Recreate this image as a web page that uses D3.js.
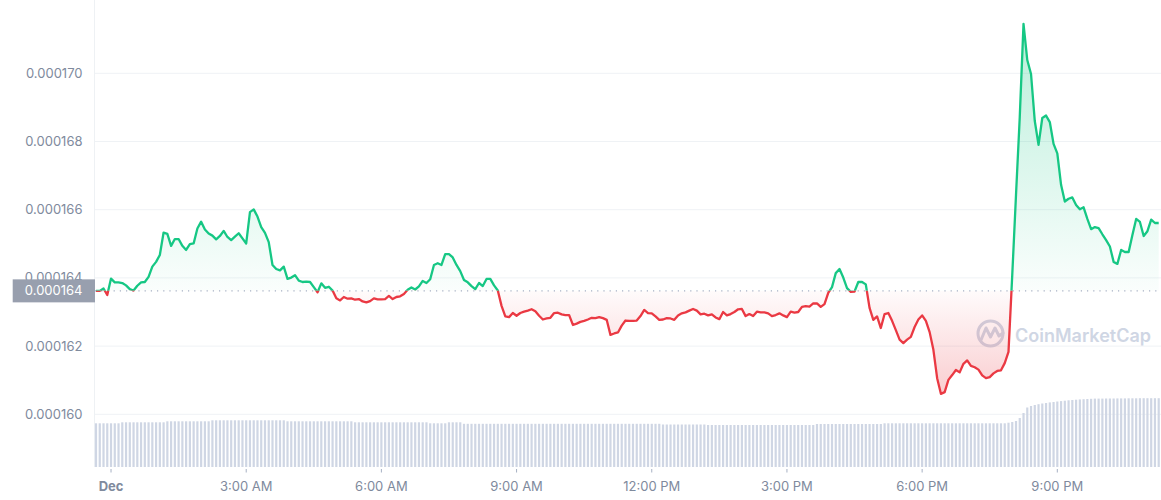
<!DOCTYPE html>
<html>
<head>
<meta charset="utf-8">
<script src="https://cdn.jsdelivr.net/npm/d3@7"></script>
<style>
  html, body { margin: 0; padding: 0; background: #ffffff; }
  svg { display: block; font-family: Inter, "Noto Sans", sans-serif; }
</style>
</head>
<body>
<svg id="chart" width="1161" height="500"></svg>
<script>
// ---- data ----
// price in millionths of USD, one point every 5 minutes from 23:40 (Nov 30) to 23:15 (Dec 1)
const startTime = new Date(2022, 10, 30, 23, 40);
const stepMinutes = 5;
const priceMicro = [
163.62,163.62,163.69,163.50,163.98,163.87,163.87,163.85,163.78,163.67,
163.63,163.77,163.87,163.88,164.03,164.33,164.47,164.67,165.33,165.29,
164.94,165.14,165.14,164.94,164.82,164.99,165.01,165.45,165.65,165.42,
165.30,165.24,165.13,165.23,165.38,165.20,165.11,165.21,165.31,165.16,
165.01,165.93,166.01,165.80,165.49,165.32,165.05,164.38,164.26,164.22,
164.33,163.97,164.01,164.08,163.92,163.88,163.89,163.88,163.73,163.58,
163.84,163.71,163.74,163.63,163.40,163.34,163.44,163.39,163.40,163.36,
163.38,163.31,163.28,163.32,163.40,163.37,163.37,163.38,163.47,163.38,
163.44,163.46,163.53,163.65,163.72,163.66,163.75,163.91,163.85,163.96,
164.38,164.43,164.38,164.70,164.70,164.60,164.38,164.20,163.94,163.87,
163.76,163.67,163.85,163.76,163.97,163.97,163.78,163.63,163.18,162.87,
162.85,162.97,162.89,162.97,163.01,163.04,163.08,163.02,162.89,162.78,
162.81,162.83,162.97,162.98,162.93,162.91,162.91,162.62,162.66,162.71,
162.74,162.78,162.83,162.82,162.85,162.82,162.77,162.33,162.37,162.40,
162.60,162.75,162.74,162.74,162.75,162.88,163.06,162.97,162.96,162.87,
162.77,162.78,162.82,162.81,162.77,162.90,162.96,162.99,163.04,163.09,
163.04,162.93,162.95,162.90,162.93,162.84,162.79,163.00,162.90,162.94,
163.00,163.08,163.09,162.88,162.94,162.88,163.01,162.99,162.99,162.96,
162.88,162.91,162.96,162.90,162.85,163.01,162.98,163.00,163.15,163.17,
163.16,163.25,163.25,163.15,163.23,163.56,163.73,164.14,164.26,164.01,
163.70,163.59,163.60,163.88,163.88,163.81,163.12,162.77,162.87,162.53,
162.94,162.97,162.74,162.47,162.19,162.09,162.19,162.27,162.56,162.78,
162.90,162.74,162.41,161.89,161.06,160.60,160.65,161.01,161.15,161.30,
161.23,161.48,161.58,161.42,161.38,161.31,161.14,161.06,161.09,161.20,
161.27,161.29,161.50,161.83,164.08,166.43,168.72,171.45,170.39,169.98,
168.60,167.90,168.69,168.76,168.57,167.93,167.65,166.73,166.24,166.32,
166.36,166.14,166.01,166.07,165.73,165.43,165.49,165.46,165.28,165.11,
164.92,164.47,164.41,164.82,164.76,164.76,165.26,165.73,165.64,165.23,
165.37,165.71,165.61,165.61
];
// 24h volume (arbitrary units), same timestamps
const volume = [
43.7,43.7,43.7,43.7,43.7,43.7,43.7,
44.7,44.7,44.7,44.7,44.7,44.7,44.7,44.7,44.7,44.7,44.7,44.7,
45.7,45.7,45.7,45.7,45.7,45.7,45.7,45.7,45.7,45.7,45.7,45.7,
46.7,46.7,46.7,46.7,46.7,46.7,46.7,46.7,46.7,46.7,46.7,46.7,46.7,46.7,46.7,46.7,46.7,46.7,46.7,46.7,
45.7,45.7,45.7,45.7,45.7,45.7,45.7,45.7,45.7,45.7,45.7,45.7,45.7,45.7,45.7,45.7,45.7,45.7,
44.7,44.7,44.7,44.7,44.7,44.7,44.7,44.7,44.7,44.7,44.7,44.7,44.7,44.7,44.7,44.7,44.7,44.7,44.7,44.7,
43.7,43.7,43.7,43.7,43.7,
44.7,44.7,44.7,44.7,
43.2,43.2,43.2,43.2,43.2,43.2,43.2,43.2,43.2,43.2,43.2,43.2,43.2,43.2,43.2,43.2,43.2,43.2,
43.2,43.2,43.2,43.2,43.2,43.2,43.2,43.2,43.2,43.2,43.2,43.2,43.2,43.2,43.2,43.2,43.2,43.2,
43.2,43.2,43.2,43.2,43.2,43.2,43.2,43.2,43.2,43.2,43.2,43.2,43.2,43.2,43.2,43.2,43.2,
42.5,42.5,42.5,42.5,42.5,42.5,42.5,42.5,42.5,42.5,42.5,42.5,
42.0,42.0,42.0,42.0,42.0,42.0,42.0,42.0,42.0,42.0,42.0,42.0,42.0,42.0,42.0,
42.0,42.0,42.0,42.0,42.0,42.0,42.0,42.0,42.0,42.0,42.0,42.0,42.0,42.0,
43.0,43.0,43.0,43.0,43.0,43.0,43.0,43.0,43.0,43.0,43.0,43.0,43.0,43.0,43.0,43.0,43.0,43.0,
43.7,43.7,43.7,43.7,43.7,43.7,43.7,43.7,43.7,43.7,43.7,43.7,43.7,43.7,43.7,43.7,43.7,
43.7,43.7,43.7,43.7,43.7,43.7,43.7,43.7,43.7,43.7,43.7,43.7,43.7,43.7,43.7,43.7,
44.3,45.0,46.0,49.0,54.0,59.5,61.0,62.0,62.8,63.5,64.0,64.6,65.0,65.5,65.9,66.3,66.7,67.0,67.3,67.6,67.8,68.0,68.2,
68.4,68.4,68.4,68.5,68.5,68.5,68.6,68.6,68.6,68.7,68.7,68.7,68.8,68.8,68.8,68.8,68.8,68.8
];
const yTickValues = [0.000160, 0.000162, 0.000164, 0.000166, 0.000168, 0.000170];
const watermarkText = "CoinMarketCap";

// ---- derived ----
const price = priceMicro.map(v => v * 1e-6);
const times = price.map((_, i) => new Date(startTime.getTime() + i * stepMinutes * 60000));
const rows = price.map((p, i) => ({ t: times[i], p: p, v: volume[i] }));
const basePrice = price[0];

const W = 1161, H = 500;
const plotLeft = 95, plotRight = 1161;
const svg = d3.select("#chart");

const x = d3.scaleTime().domain([times[0], times[times.length - 1]]).range([96, 1158.7]);
const y = d3.scaleLinear().domain([0.000160, 0.000170]).range([414.3, 73.3]);
const vy = d3.scaleLinear().domain([0, 70]).range([467, 397]);

const green = "#16c784", red = "#ea3943";
const baseY = y(basePrice);

const defs = svg.append("defs");
const gGrad = defs.append("linearGradient").attr("id", "gGrad")
  .attr("gradientUnits", "userSpaceOnUse").attr("x1", 0).attr("x2", 0)
  .attr("y1", y(d3.max(price))).attr("y2", baseY);
gGrad.append("stop").attr("offset", 0).attr("stop-color", green).attr("stop-opacity", 0.3);
gGrad.append("stop").attr("offset", 1).attr("stop-color", green).attr("stop-opacity", 0.02);
const rGrad = defs.append("linearGradient").attr("id", "rGrad")
  .attr("gradientUnits", "userSpaceOnUse").attr("x1", 0).attr("x2", 0)
  .attr("y1", baseY).attr("y2", y(d3.min(price)));
rGrad.append("stop").attr("offset", 0).attr("stop-color", red).attr("stop-opacity", 0.02);
rGrad.append("stop").attr("offset", 1).attr("stop-color", red).attr("stop-opacity", 0.25);

defs.append("clipPath").attr("id", "clipAbove").append("rect")
  .attr("x", 0).attr("y", 0).attr("width", W).attr("height", baseY);
defs.append("clipPath").attr("id", "clipBelow").append("rect")
  .attr("x", 0).attr("y", baseY).attr("width", W).attr("height", H - baseY);

// gridlines
svg.append("g").selectAll("line").data(yTickValues).join("line")
  .attr("x1", plotLeft).attr("x2", plotRight)
  .attr("y1", d => y(d)).attr("y2", d => y(d))
  .attr("stroke", "#eff2f5").attr("stroke-width", 1);
// left vertical axis line
svg.append("line").attr("x1", plotLeft - 0.5).attr("x2", plotLeft - 0.5)
  .attr("y1", 0).attr("y2", 467).attr("stroke", "#eef1f4").attr("stroke-width", 1);

// volume bars
svg.append("g").selectAll("rect").data(rows).join("rect")
  .attr("x", d => x(d.t) - 1.1).attr("width", 2.2)
  .attr("y", d => vy(d.v)).attr("height", d => vy(0) - vy(d.v))
  .attr("fill", "#cfd6e4");

// watermark
const wm = svg.append("g");
wm.append("circle").attr("cx", 990.5).attr("cy", 333.5).attr("r", 12.5)
  .attr("fill", "none").attr("stroke", "#cfd6e4").attr("stroke-width", 3);
wm.append("path").attr("d", "M981,340 L986,328 L990.5,337 L995,328 L999,336 L1003,333")
  .attr("fill", "none").attr("stroke", "#cfd6e4").attr("stroke-width", 3)
  .attr("stroke-linejoin", "round").attr("stroke-linecap", "round");
const wmText = wm.append("text").attr("x", 1015).attr("y", 342).text(watermarkText)
  .attr("font-size", 20).attr("font-weight", 600).attr("fill", "#cfd6e4");
const wmLen = wmText.node().getComputedTextLength();
if (wmLen > 0) wmText.attr("font-size", 20 * 136 / wmLen);

// areas
const area = d3.area().x(d => x(d.t)).y0(baseY).y1(d => y(d.p));
svg.append("path").datum(rows).attr("d", area).attr("fill", "url(#gGrad)").attr("clip-path", "url(#clipAbove)");
svg.append("path").datum(rows).attr("d", area).attr("fill", "url(#rGrad)").attr("clip-path", "url(#clipBelow)");

// baseline dotted
svg.append("line").attr("x1", plotLeft).attr("x2", plotRight - 2)
  .attr("y1", baseY).attr("y2", baseY)
  .attr("stroke", "#a6b0c3").attr("stroke-width", 1.2).attr("stroke-dasharray", "1.2,5");

// price line
const line = d3.line().x(d => x(d.t)).y(d => y(d.p));
svg.append("path").datum(rows).attr("d", line).attr("fill", "none")
  .attr("stroke", green).attr("stroke-width", 2.3).attr("stroke-linejoin", "round")
  .attr("clip-path", "url(#clipAbove)");
svg.append("path").datum(rows).attr("d", line).attr("fill", "none")
  .attr("stroke", red).attr("stroke-width", 2.3).attr("stroke-linejoin", "round")
  .attr("clip-path", "url(#clipBelow)");

// y axis labels
const fmtY = d3.format(".6f");
svg.append("g").selectAll("text").data(yTickValues).join("text")
  .attr("x", 82.5).attr("y", d => y(d)).attr("dy", "0.35em")
  .attr("text-anchor", "end").attr("font-size", 13).attr("fill", "#808a9d")
  .text(d => fmtY(d));

// baseline price label
svg.append("rect").attr("x", 12.7).attr("y", baseY - 11.5).attr("width", 82.3).attr("height", 23)
  .attr("fill", "#989fae");
svg.append("text").attr("x", 82.5).attr("y", baseY).attr("dy", "0.35em")
  .attr("text-anchor", "end").attr("font-size", 13).attr("fill", "#ffffff")
  .text(d3.format(".6f")(basePrice));

// x axis
const xTicks = x.ticks(d3.timeHour.every(3));
const fmtX = d => (d.getHours() === 0 && d.getMinutes() === 0) ? d3.timeFormat("%b")(d) : d3.timeFormat("%-I:%M %p")(d);
const xg = svg.append("g");
xg.selectAll("line").data(xTicks).join("line")
  .attr("x1", d => x(d)).attr("x2", d => x(d)).attr("y1", 469).attr("y2", 472.5)
  .attr("stroke", "#a6b0c3").attr("stroke-width", 1);
xg.selectAll("text").data(xTicks).join("text")
  .attr("x", d => x(d)).attr("y", 491).attr("text-anchor", "middle")
  .attr("font-size", 13).attr("fill", "#808a9d")
  .attr("font-weight", d => d.getHours() === 0 ? 700 : 400)
  .text(fmtX);
</script>
</body>
</html>
